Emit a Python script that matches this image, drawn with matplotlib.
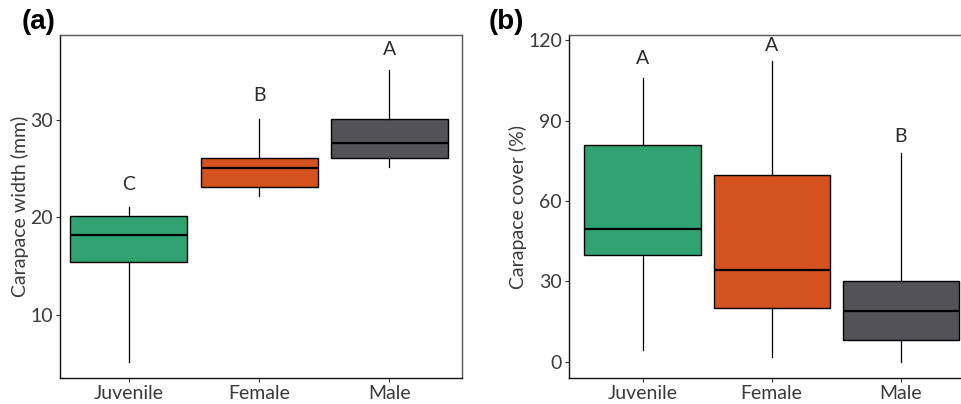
import matplotlib
matplotlib.use("Agg")
import matplotlib.pyplot as plt

plt.rcParams['font.family'] = ['Lato', 'DejaVu Sans']

groups = ['Juvenile', 'Female', 'Male']
colors = ['#31a271', '#d35220', '#535357']

# carapace width (mm): lower whisker, Q1, median, Q3, upper whisker
width_lo = [5.2, 22.2, 25.2]
width_q1 = [15.4, 23.1, 26.1]
width_med = [18.2, 25.1, 27.6]
width_q3 = [20.1, 26.1, 30.1]
width_hi = [21.1, 30.1, 35.1]
width_letters = ['C', 'B', 'A']
width_letter_y = [23.4, 32.5, 37.2]

# carapace cover (%)
cover_lo = [4.4, 1.7, 0.0]
cover_q1 = [39.9, 20.0, 8.3]
cover_med = [49.6, 34.3, 19.0]
cover_q3 = [80.9, 69.7, 30.3]
cover_hi = [106.0, 112.3, 78.0]
cover_letters = ['A', 'A', 'B']
cover_letter_y = [113.0, 117.9, 84.0]


def draw(ax, lo, q1, med, q3, hi, letters, letter_y, ylabel):
    stats = []
    for i in range(len(groups)):
        stats.append(dict(whislo=lo[i], q1=q1[i], med=med[i], q3=q3[i],
                          whishi=hi[i], fliers=[], label=groups[i]))
    bp = ax.bxp(stats, positions=[1, 2, 3], widths=0.9, patch_artist=True,
                showcaps=False, showfliers=False,
                boxprops=dict(edgecolor='black', linewidth=1.0),
                medianprops=dict(color='black', linewidth=1.6),
                whiskerprops=dict(color='black', linewidth=0.9))
    for patch, c in zip(bp['boxes'], colors):
        patch.set_facecolor(c)
    for i, t in enumerate(letters):
        ax.text(i + 1, letter_y[i], t, ha='center', va='center',
                fontsize=14, color='#2a2a2a')
    ax.set_ylabel(ylabel, fontsize=14, color='#3a3a3a', labelpad=1)
    ax.tick_params(axis='both', length=3, width=0.8, colors='#333333',
                   labelsize=14, labelcolor='#3a3a3a', pad=2)
    for s in ['top', 'right']:
        ax.spines[s].set_color('#555555')
    for s in ['left', 'bottom']:
        ax.spines[s].set_color('#111111')
    for s in ax.spines.values():
        s.set_linewidth(1.0)


fig = plt.figure(figsize=(9.62, 4.04), dpi=100)
W, H = 962, 404

ax1 = fig.add_axes([60 / W, 1 - 378 / H, 402 / W, 343 / H])
draw(ax1, width_lo, width_q1, width_med, width_q3, width_hi,
     width_letters, width_letter_y, 'Carapace width (mm)')
ax1.set_ylim(3.54, 38.7)
ax1.set_xlim(0.47, 3.56)
ax1.set_yticks([10, 20, 30])

# panel b runs past the right edge of the figure
ax2 = fig.add_axes([569 / W, 1 - 378 / H, 413 / W, 343 / H])
draw(ax2, cover_lo, cover_q1, cover_med, cover_q3, cover_hi,
     cover_letters, cover_letter_y, 'Carapace cover (%)')
ax2.set_ylim(-6.0, 121.9)
ax2.set_xlim(0.43, 3.63)
ax2.set_yticks([0, 30, 60, 90, 120])

fig.text(22 / W, 1 - 22 / H, '(a)', family='Liberation Sans', fontweight='bold',
         fontsize=20, va='center', ha='left')
fig.text(489 / W, 1 - 22 / H, '(b)', family='Liberation Sans', fontweight='bold',
         fontsize=20, va='center', ha='left')

fig.savefig('out.png', dpi=100)
